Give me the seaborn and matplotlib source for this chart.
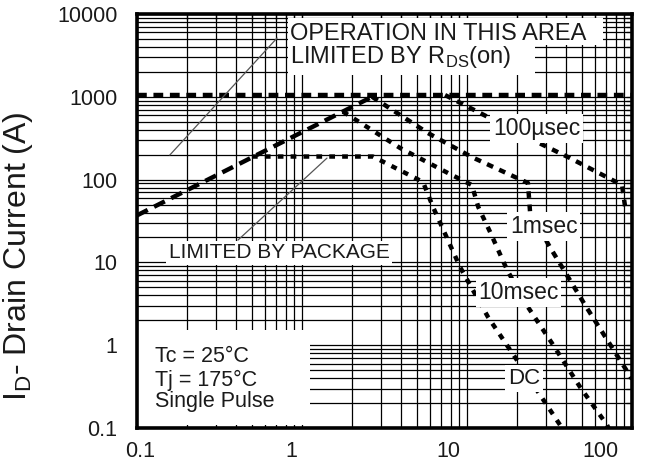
import numpy as np
import pandas as pd
import matplotlib.pyplot as plt
import seaborn as sns
from matplotlib.patches import Rectangle
from matplotlib.ticker import NullFormatter
from matplotlib.transforms import ScaledTranslation

# curves (V_DS in volts, I_D in amps)
rds_v = [0.1, 2.66]
rds_i = [37, 1000]
top_v = [0.1, 100]
top_i = [1050, 1050]
us100_v = [7.36, 12.0, 26.6, 42.1, 87.0, 91.5]
us100_i = [1050, 637, 284, 182, 86, 42]
ms1_v = [2.66, 5.80, 10.7, 23.4, 24.1, 31.8, 51.9, 100]
ms1_i = [1000, 365, 187, 91, 40.6, 15.3, 3.06, 0.39]
ms10_v = [1.77, 3.93, 7.67, 10.7, 11.7, 13.8, 17.5, 23.4, 32.7, 48.4, 70.5, 74]
ms10_i = [662, 241, 120, 86, 46.7, 23.3, 8.1, 2.89, 1.06, 0.313, 0.109, 0.09]
dc_v = [0.497, 2.69, 5.41, 6.22, 9.07, 13.4, 19.5, 36.6, 39]
dc_i = [190, 190, 93.6, 46.7, 8.8, 2.19, 0.72, 0.109, 0.09]

# thin leader lines for the two notes
lead1_v = [0.158, 0.706]
lead1_i = [198, 5130]
lead2_v = [0.409, 1.417]
lead2_i = [18.6, 182]

x_ticks = [0.1, 1, 10, 100]
x_labels = ["0.1", "1", "10", "100"]
y_ticks = [0.1, 1, 10, 100, 1000, 10000]
y_labels = ["0.1", "1", "10", "100", "1000", "10000"]

curves = {
    "rds": (rds_v, rds_i),
    "top": (top_v, top_i),
    "100us": (us100_v, us100_i),
    "1ms": (ms1_v, ms1_i),
    "10ms": (ms10_v, ms10_i),
    "dc": (dc_v, dc_i),
}
dash_map = {
    "rds": (2.7, 1.6),
    "top": (2.2, 1.5),
    "100us": (1.5, 1.5),
    "1ms": (1.5, 1.5),
    "10ms": (1.3, 1.6),
    "dc": (1.3, 1.6),
}
df = pd.concat(
    [pd.DataFrame({"V": v, "I": i, "curve": name}) for name, (v, i) in curves.items()],
    ignore_index=True,
)

sns.set_style("white")
plt.rcParams["font.family"] = ["Liberation Sans", "DejaVu Sans"]
txt = "#1a1a1a"

fig = plt.figure(figsize=(6.54, 4.72), dpi=100)
ax = fig.add_axes([0.2095, 0.0932, 0.7569, 0.8771])
ax.set_xscale("log")
ax.set_yscale("log")

sns.lineplot(data=df, x="V", y="I", hue="curve", style="curve",
             palette={n: "black" for n in curves}, dashes=dash_map,
             sort=False, estimator=None, linewidth=3.2, legend=False,
             ax=ax, zorder=3)

ax.plot(lead1_v, lead1_i, color="#555555", lw=0.9, zorder=3)
ax.plot(lead2_v, lead2_i, color="#555555", lw=0.9, zorder=3)

ax.set_xlim(0.1, 100)
ax.set_ylim(0.1, 10000)
ax.set_xticks(x_ticks, x_labels)
ax.set_yticks(y_ticks, y_labels)
ax.xaxis.set_minor_formatter(NullFormatter())
ax.yaxis.set_minor_formatter(NullFormatter())
ax.grid(True, which="both", color="black", lw=0.9)
ax.tick_params(which="both", direction="in", length=4, width=0.9,
               top=True, right=True, colors="black")
ax.tick_params(axis="y", labelsize=15.5, pad=14, labelcolor=txt)
ax.tick_params(axis="x", labelsize=15.5, pad=9, labelcolor=txt)
ax.set_xlabel("")
ax.set_ylabel(r"I$_\mathregular{D}$- Drain Current (A)", fontsize=23,
              color=txt, va="center")
ax.yaxis.set_label_coords(-0.24, 0.415)

for s in ax.spines.values():
    s.set_linewidth(2.6)
    s.set_color("black")
    s.set_zorder(5)

# white panels behind the notes
ax.add_patch(Rectangle((0, 0.008), 0.349, 0.229, transform=ax.transAxes,
                       facecolor="white", edgecolor="none", zorder=1.8))
ax.add_patch(Rectangle((0.823, 4230), 66.7 - 0.823, 8950 - 4230,
                       facecolor="white", edgecolor="none", zorder=1.8))
ax.add_patch(Rectangle((0.823, 1833), 26.0 - 0.823, 4230 - 1833,
                       facecolor="white", edgecolor="none", zorder=1.8))

box = dict(boxstyle="square,pad=0.12", facecolor="white", edgecolor="none")
ax.text(0.846, 2560,
        "OPERATION IN THIS AREA\n" + r"LIMITED BY R$_\mathregular{DS}$(on)",
        fontsize=17, color=txt, va="baseline", linespacing=0.95, zorder=4)
ax.text(0.156, 11.3, "LIMITED BY PACKAGE", fontsize=15, color=txt,
        va="baseline", bbox=box, zorder=4)
ax.text(14.4, 346, "100µsec", fontsize=16.5, color=txt, va="baseline",
        bbox=box, zorder=4)
ax.text(18.2, 22.6, "1msec", fontsize=16.5, color=txt, va="baseline",
        bbox=box, zorder=4)
ax.text(11.7, 3.61, "10msec", fontsize=16.5, color=txt, va="baseline",
        bbox=box, zorder=4)
ax.text(17.7, 0.34, "DC", fontsize=16, color=txt, va="baseline",
        bbox=box, zorder=4)
ax.text(0.129, 0.627, "Tc = 25°C", fontsize=15.5, color=txt, va="baseline", zorder=4)
ax.text(0.129, 0.321, "Tj = 175°C", fontsize=15.5, color=txt, va="baseline", zorder=4)
ax.text(0.129, 0.179, "Single Pulse", fontsize=15.5, color=txt, va="baseline", zorder=4)

# the printed x labels sit a little left of their grid lines
x_label_shift = [3, -11, -19, -32]
for lab, dx in zip(ax.get_xticklabels(), x_label_shift):
    lab.set_transform(lab.get_transform() + ScaledTranslation(dx / 100, 0, fig.dpi_scale_trans))

fig.savefig("out.png", dpi=100)
